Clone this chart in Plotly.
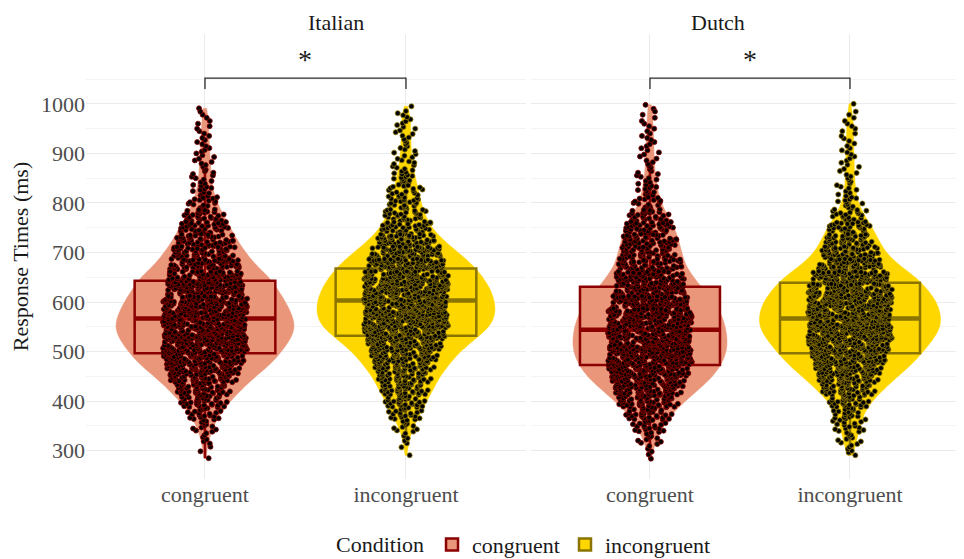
import math
import plotly.graph_objects as go
from plotly.subplots import make_subplots

# ---------------- data ----------------
languages = ["Italian", "Dutch"]
conditions = ["congruent", "incongruent"]

# response-time levels (ms) at which the violin widths were read
rt_levels = [300, 325, 350, 375, 400, 425, 450, 475, 500, 525, 550, 575, 600, 625,
             650, 675, 700, 725, 750, 775, 800, 825, 850, 875, 900, 925, 950, 975, 1000]

# relative density (violin half-width) at each level
density_italian_congruent = [6, 13, 25, 45, 75, 110, 150, 195, 225, 252, 266, 257, 238, 215,
                             190, 150, 120, 95, 75, 55, 36, 24, 18, 16, 14, 12, 10, 8, 2]
density_italian_incongruent = [4, 10, 22, 42, 62, 82, 100, 128, 160, 205, 250, 267, 264, 252,
                               230, 198, 155, 110, 75, 58, 45, 36, 28, 20, 17, 15, 15, 12, 3]
density_dutch_congruent = [10, 22, 40, 66, 105, 148, 188, 214, 230, 231, 226, 214, 192, 160,
                           130, 105, 95, 86, 74, 52, 33, 24, 18, 14, 12, 11, 10, 8, 3]
density_dutch_incongruent = [12, 20, 30, 40, 65, 100, 140, 183, 215, 245, 268, 268, 255, 230,
                             195, 142, 105, 85, 66, 42, 24, 17, 15, 13, 12, 11, 10, 8, 3]

trials_per_group = 1400

min_rt_italian = [285, 291]
max_rt_italian = [991, 995]
min_rt_dutch = [284, 291]
max_rt_dutch = [998, 1000]

q1_italian = [497, 532]
median_italian = [567, 603]
q3_italian = [643, 668]
lower_whisker_italian = [285, 330]
upper_whisker_italian = [862, 870]

q1_dutch = [473, 497]
median_dutch = [544, 567]
q3_dutch = [631, 639]
lower_whisker_dutch = [284, 291]
upper_whisker_dutch = [865, 850]

significance_labels = ["*", "*"]
y_tick_values = [300, 400, 500, 600, 700, 800, 900, 1000]
y_minor_values = [350, 450, 550, 650, 750, 850, 950, 1050]

# ---------------- styles / positions ----------------
FONT = "Liberation Serif"
fill_colors = {"congruent": "#E9967A", "incongruent": "#FFD700"}
dark_colors = {"congruent": "#8B0000", "incongruent": "#8B7500"}
violin_widths = {"Italian": [0.885, 0.885], "Dutch": [0.77, 0.905]}
box_width = 0.70
peak_jitter = 0.60
jitter_classes = 12
bracket_top = 1052
bracket_tip = 1030
star_y = 1090
dom_italian = [0, 0.5011]
dom_dutch = [0.5068, 1]
# the page body adds an 8px offset, so the figure is drawn 8px smaller
FIG_W, FIG_H = 956, 551


def expand_bins(weights, lo_rt, hi_rt, n_total):
    """Turn the read density profile into trial values (evenly spaced in each bin)."""
    total = float(sum(weights))
    last = max(i for i, w in enumerate(weights) if w > 0)
    bins = []
    for i, (lev, w) in enumerate(zip(rt_levels, weights)):
        n = int(round(w / total * n_total))
        if n == 0:
            continue
        lo = lev - 12.5 if i > 0 else lo_rt
        hi = lev + 12.5 if i < last else hi_rt
        lo = max(lo, lo_rt)
        hi = min(hi, hi_rt)
        step = (hi - lo) / n
        bins.append((w, [lo + (k + 0.5) * step for k in range(n)]))
    bins[0][1][0] = lo_rt
    bins[-1][1][-1] = hi_rt
    return bins


groups = {
    "Italian": dict(dens=[density_italian_congruent, density_italian_incongruent],
                    mn=min_rt_italian, mx=max_rt_italian, q1=q1_italian, med=median_italian,
                    q3=q3_italian, lw=lower_whisker_italian, uw=upper_whisker_italian),
    "Dutch": dict(dens=[density_dutch_congruent, density_dutch_incongruent],
                  mn=min_rt_dutch, mx=max_rt_dutch, q1=q1_dutch, med=median_dutch,
                  q3=q3_dutch, lw=lower_whisker_dutch, uw=upper_whisker_dutch),
}

fig = make_subplots(rows=1, cols=2, shared_yaxes=True, horizontal_spacing=0.01)

for col, lang in enumerate(languages, start=1):
    g = groups[lang]
    for j, cond in enumerate(conditions):
        bins = expand_bins(g["dens"][j], g["mn"][j], g["mx"][j], trials_per_group)
        vals = [v for _, b in bins for v in b]
        wmax = max(w for w, _ in bins)
        fig.add_trace(go.Violin(
            x=[cond] * len(vals), y=vals, name=cond, legendgroup=cond, showlegend=False,
            spanmode="hard", bandwidth=14, scalemode="width",
            width=violin_widths[lang][j], fillcolor=fill_colors[cond],
            line=dict(color=fill_colors[cond], width=0.5), opacity=1,
            points=False, box_visible=False, meanline_visible=False, hoverinfo="skip",
        ), row=1, col=col)
        # box (quartiles + whiskers)
        fig.add_trace(go.Box(
            x=[cond], q1=[g["q1"][j]], median=[g["med"][j]], q3=[g["q3"][j]],
            lowerfence=[g["lw"][j]], upperfence=[g["uw"][j]],
            name=cond, legendgroup=cond, showlegend=(col == 1),
            width=box_width, whiskerwidth=0, fillcolor=fill_colors[cond],
            line=dict(color=dark_colors[cond], width=2.5), boxpoints=False, hoverinfo="skip",
        ), row=1, col=col)
        # thicker median bar
        fig.add_trace(go.Box(
            x=[cond], q1=[g["med"][j]], median=[g["med"][j]], q3=[g["med"][j]],
            lowerfence=[g["med"][j]], upperfence=[g["med"][j]],
            name=cond, legendgroup=cond, showlegend=False,
            width=box_width, whiskerwidth=0, fillcolor="rgba(0,0,0,0)",
            line=dict(color=dark_colors[cond], width=4.5), boxpoints=False, hoverinfo="skip",
        ), row=1, col=col)
        # jittered trial points: plotly jitter, spread scaled by local density (sina-like);
        # trials are grouped into density classes so each class gets its own jitter width
        classes = {}
        for w, b in bins:
            c = max(1, int(math.ceil(math.sqrt(w / wmax) * jitter_classes)))
            classes.setdefault(c, []).extend(b)
        for c in sorted(classes):
            pts = classes[c]
            fig.add_trace(go.Box(
                x=[cond] * len(pts), y=pts, name=cond, legendgroup=cond, showlegend=False,
                width=box_width, boxpoints="all",
                jitter=peak_jitter * c / jitter_classes, pointpos=0,
                fillcolor="rgba(0,0,0,0)", line=dict(width=0, color="rgba(0,0,0,0)"),
                marker=dict(size=5, color="black",
                            line=dict(color=dark_colors[cond], width=0.8)),
                hoverinfo="skip",
            ), row=1, col=col)
    # significance bracket
    fig.add_trace(go.Scatter(
        x=[conditions[0], conditions[0], conditions[1], conditions[1]],
        y=[bracket_tip, bracket_top, bracket_top, bracket_tip],
        mode="lines", line=dict(color="#2B2B2B", width=1.3),
        showlegend=False, hoverinfo="skip",
    ), row=1, col=col)

axis_common = dict(
    type="category", categoryorder="array", categoryarray=conditions, automargin=False,
    showgrid=True, gridcolor="#EBEBEB", gridwidth=1, zeroline=False, showline=False,
    ticks="", tickfont=dict(family=FONT, size=22, color="#4D4D4D"),
)
fig.update_xaxes(**axis_common)
fig.update_layout(
    xaxis=dict(domain=dom_italian, range=[-0.592, 1.597]),
    xaxis2=dict(domain=dom_dutch, range=[-0.595, 1.57]),
)
yaxis_common = dict(
    range=[243, 1141], tickvals=y_tick_values, showgrid=True, gridcolor="#EBEBEB",
    gridwidth=1, zeroline=False, showline=False, ticks="", automargin=False,
    tickfont=dict(family=FONT, size=22, color="#4D4D4D"),
    minor=dict(tickvals=y_minor_values, showgrid=True, gridcolor="#F4F4F4", gridwidth=1),
)
fig.update_yaxes(**yaxis_common)
fig.update_layout(
    yaxis=dict(title=dict(text="Response Times (ms)", standoff=6,
                          font=dict(family=FONT, size=22, color="#1A1A1A"))),
    yaxis2=dict(matches="y", showticklabels=False),
)

annotations = []
for col, lang in enumerate(languages):
    dom = dom_italian if col == 0 else dom_dutch
    annotations.append(dict(
        text=lang, xref="paper", yref="paper", x=(dom[0] + dom[1]) / 2, y=1,
        yanchor="middle", yshift=12, showarrow=False,
        font=dict(family=FONT, size=22, color="#1A1A1A")))
    annotations.append(dict(
        text=significance_labels[col], xref="x" if col == 0 else "x2",
        yref="y" if col == 0 else "y2", x=0.5, y=star_y, showarrow=False,
        font=dict(family=FONT, size=28, color="#1A1A1A")))

fig.update_layout(
    width=FIG_W, height=FIG_H,
    margin=dict(l=78, r=0, t=26, b=80, autoexpand=False),
    paper_bgcolor="white", plot_bgcolor="white",
    font=dict(family=FONT, size=22, color="#1A1A1A"),
    boxmode="overlay", violinmode="overlay",
    annotations=annotations,
    legend=dict(orientation="h", x=0.5, xanchor="center", yref="container", y=0.026,
                yanchor="middle",
                title=dict(text="Condition", side="left",
                           font=dict(family=FONT, size=22, color="#1A1A1A")),
                font=dict(family=FONT, size=22, color="#1A1A1A"),
                traceorder="normal"),
)

fig.write_html("out.html")
